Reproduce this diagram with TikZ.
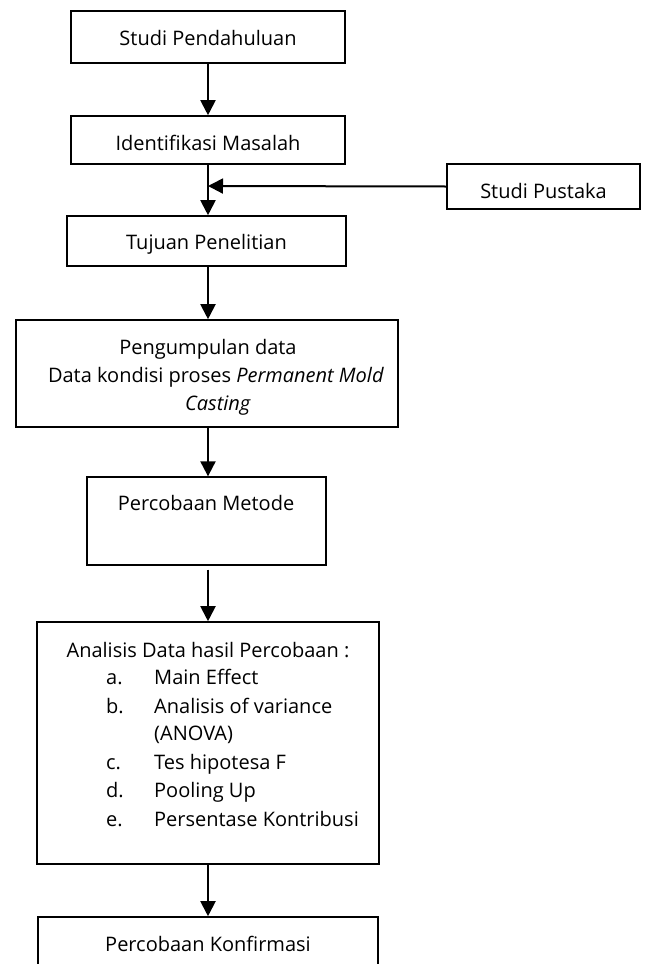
\documentclass[tikz,border=0pt]{standalone}
\usepackage{fontspec}
\setmainfont{Open Sans}
\usetikzlibrary{arrows.meta}
\begin{document}
\begin{tikzpicture}[x=1pt,y=-1pt,
  box/.style={draw=black,line width=1.6pt,rectangle,inner sep=0pt},
  txt/.style={inner sep=0pt,font=\fontsize{20}{28}\selectfont},
  conn/.style={line width=2pt,-{Triangle[length=15pt,width=15pt]}}]
\clip (0,0) rectangle (645,964);
\useasboundingbox (0,0) rectangle (645,964);
% boxes
\node[box,minimum width=274pt,minimum height=52pt] (b1) at (208,37) {};
\node[box,minimum width=274pt,minimum height=48pt] (b2) at (208,140) {};
\node[box,minimum width=279pt,minimum height=50pt] (b3) at (206.5,241) {};
\node[box,minimum width=193pt,minimum height=45pt] (sp) at (543.5,186.5) {};
\node[box,minimum width=382pt,minimum height=107pt] (b4) at (207,373.5) {};
\node[box,line width=1.3pt,minimum width=239pt,minimum height=88pt] (b5) at (206.5,521) {};
\node[box,minimum width=342pt,minimum height=242pt] (b6) at (208,743) {};
\node[box,minimum width=340pt,minimum height=60pt] (b7) at (208,947) {};
% texts
\node[txt,anchor=base] (t1) at (208,45) {Studi Pendahuluan};
\node[txt,anchor=base] (t2) at (208,150) {Identifikasi Masalah};
\node[txt,anchor=base] (t3) at (206.5,249) {Tujuan Penelitian};
\node[txt,anchor=base] (tsp) at (543.5,198) {Studi Pustaka};
\node[txt,anchor=base] (t4a) at (208,354) {Pengumpulan data};
\node[txt,anchor=base] (t4b) at (216,382) {Data kondisi proses \textit{Permanent Mold}};
\node[txt,anchor=base] (t4c) at (218,410) {\textit{Casting}};
\node[txt,anchor=base] (t5) at (206,510) {Percobaan Metode};
\node[txt,anchor=base] (t6) at (208,657) {Analisis Data hasil Percobaan :};
\node[txt,anchor=base west] (la) at (106,684) {a.};
\node[txt,anchor=base west] (ia) at (154,684) {Main Effect};
\node[txt,anchor=base west] (lb) at (106,713) {b.};
\node[txt,anchor=base west] (ib) at (154,713) {Analisis of variance};
\node[txt,anchor=base west] (ib2) at (154,740) {(ANOVA)};
\node[txt,anchor=base west] (lc) at (106,769) {c.};
\node[txt,anchor=base west] (ic) at (154,769) {Tes hipotesa F};
\node[txt,anchor=base west] (ld) at (106,797) {d.};
\node[txt,anchor=base west] (id) at (154,797) {Pooling Up};
\node[txt,anchor=base west] (le) at (106,826) {e.};
\node[txt,anchor=base west] (ie) at (154,826) {Persentase Kontribusi};
\node[txt,anchor=base] (t7) at (208,951) {Percobaan Konfirmasi};
% connectors
\coordinate (j) at (208,186);
\draw[conn] (b1.south) -- (b2.north);
\draw[conn] (b2.south -| j) -- (b3.north -| j);
\draw[conn] (sp.west) -- (j);
\draw[conn] (b3.south -| j) -- (b4.north -| j);
\draw[conn] (b4.south -| j) -- (b5.north -| j);
\draw[conn] ([yshift=-4pt]b5.south -| j) -- (b6.north -| j);
\draw[conn] (b6.south -| j) -- (b7.north -| j);
\end{tikzpicture}
\end{document}
